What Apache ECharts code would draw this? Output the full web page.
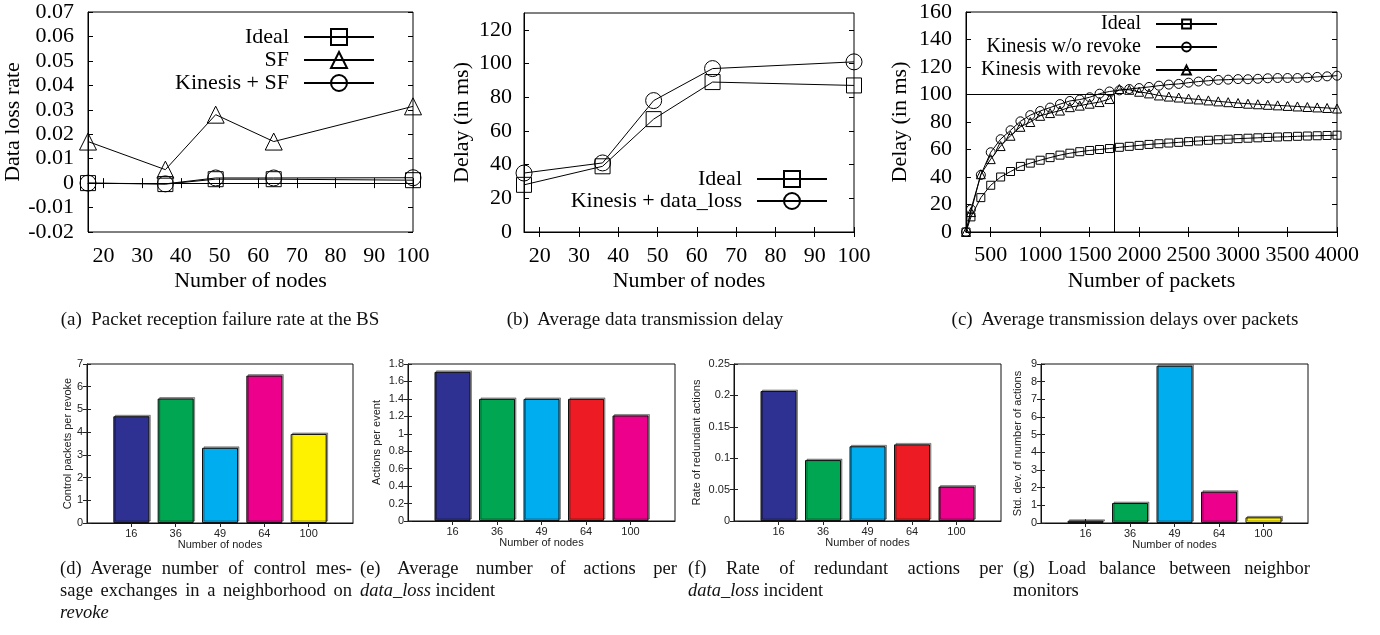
<!DOCTYPE html>
<html>
<head>
<meta charset="utf-8">
<script src="https://cdn.jsdelivr.net/npm/echarts@6/dist/echarts.min.js"></script>
<style>
  body { margin: 0; background: #fff; }
  #page { position: relative; width: 1380px; height: 635px; overflow: hidden; }
  .chart { position: absolute; left: 0; top: 0; width: 1380px; height: 635px; }
  .cap { position: absolute; font-family: 'Liberation Serif', 'Times New Roman', serif; color: #111; }
  .topcap { top: 308px; font-size: 19px; line-height: 22px; text-align: center; white-space: nowrap; }
  .col { top: 557px; font-size: 18.5px; line-height: 22px; }
  .col div { white-space: nowrap; }
  .col .j { text-align: justify; text-align-last: justify; white-space: normal; }
</style>
</head>
<body>
<div id="page">
  <div class="chart" id="chartA"></div>
  <div class="chart" id="chartB"></div>
  <div class="chart" id="chartC"></div>
  <div class="chart" id="chartD"></div>
  <div class="chart" id="chartE"></div>
  <div class="chart" id="chartF"></div>
  <div class="chart" id="chartG"></div>

  <div class="cap topcap" style="left:20px;width:400px">(a)&nbsp; Packet reception failure rate at the BS</div>
  <div class="cap topcap" style="left:445px;width:400px">(b)&nbsp; Average data transmission delay</div>
  <div class="cap topcap" style="left:925px;width:400px">(c)&nbsp; Average transmission delays over packets</div>

  <div class="cap col" style="left:60px;width:292px">
    <div class="j">(d) Average number of control mes-</div>
    <div class="j">sage exchanges in a neighborhood on</div>
    <div><i>revoke</i></div>
  </div>
  <div class="cap col" style="left:360px;width:317px">
    <div class="j">(e) Average number of actions per</div>
    <div><i>data_loss</i> incident</div>
  </div>
  <div class="cap col" style="left:688px;width:315px">
    <div class="j">(f) Rate of redundant actions per</div>
    <div><i>data_loss</i> incident</div>
  </div>
  <div class="cap col" style="left:1013px;width:297px">
    <div class="j">(g) Load balance between neighbor</div>
    <div>monitors</div>
  </div>
</div>

<script>
// ---- data ----
const nodeCounts = [16, 36, 49, 64, 100]
const nodeTicks = [20, 30, 40, 50, 60, 70, 80, 90, 100]

// (a) data loss rate
const lossIdeal = [0, -0.0004, 0.0016, 0.0016, 0.0012]
const lossSF = [0.017, 0.0055, 0.028, 0.017, 0.0314]
const lossKinesisSF = [0, -0.0003, 0.0021, 0.0021, 0.0022]

// (b) delay vs nodes
const delayTicks = [0, 20, 40, 60, 80, 100, 120]
const delayIdeal = [28, 39, 67, 89, 87]
const delayKinesisLoss = [35, 41, 78, 97, 101]

// (c) delay vs packets
const packetCounts = [250, 300, 400, 500, 600, 700, 800, 900, 1000, 1100, 1200, 1300, 1400,
  1500, 1600, 1700, 1800, 1900, 2000, 2100, 2200, 2300, 2400, 2500, 2600, 2700, 2800,
  2900, 3000, 3100, 3200, 3300, 3400, 3500, 3600, 3700, 3800, 3900, 4000]
const packetTicks = [500, 1000, 1500, 2000, 2500, 3000, 3500, 4000]
const pktDelayTicks = [0, 20, 40, 60, 80, 100, 120, 140, 160]
const pktIdeal = [0, 11, 25, 34, 40, 44, 47.7, 50.1, 52.2, 54.1, 55.9, 57.3, 58.4,
  59.3, 60.0, 60.7, 61.6, 62.3, 63.0, 63.7, 64.2, 64.7, 65.2, 65.7, 66.2, 66.7, 67.1,
  67.5, 67.9, 68.2, 68.5, 68.8, 69.1, 69.3, 69.6, 69.8, 70.0, 70.2, 70.4]
const pktNoRevoke = [0, 16.5, 41.5, 58, 67.5, 74, 80.5, 85, 88, 90.5, 93, 95.3, 96.3,
  98, 100.6, 102.2, 103, 104, 104.7, 105.5, 106.4, 107.2, 107.7, 108.6, 109.4, 110, 110.6,
  110.8, 111.2, 111.1, 111.4, 111.8, 112, 112, 112, 112.3, 112.8, 113.2, 113.7]
const pktRevoke = [0, 14.5, 42, 53, 62.5, 70, 76.5, 80, 84.5, 86.5, 88.3, 90.8, 91.9,
  93.3, 94.5, 96.7, 104, 103.4, 102, 100.8, 99.3, 98.5, 97.8, 97, 96.4, 95.7, 95,
  94.4, 93.8, 93.3, 92.9, 92.5, 92.1, 91.7, 91.3, 90.9, 90.6, 90.2, 89.8]
const cutPacket = 1750
const cutDelay = 100

// (d)-(g) bar panels
const nodeLabels = ['16', '36', '49', '64', '100']
const ctrlPackets = [4.7, 5.48, 3.31, 6.49, 3.92]
const actionsPerEvent = [1.71, 1.4, 1.4, 1.4, 1.21]
const redundantRate = [0.207, 0.097, 0.119, 0.122, 0.0548]
const stdDevActions = [0.13, 1.13, 8.9, 1.77, 0.32]

const BLUE = '#2e3192', GREEN = '#00a651', CYAN = '#00aeef'
const MAGENTA = '#ec008c', YELLOW = '#fff200', RED = '#ed1c24'

const serif = "'Liberation Serif', 'Times New Roman', serif"
const sans = "'Liberation Sans', Arial, sans-serif"

// gnuplot-like panel: boxed, inside ticks mirrored on all sides
function gnuplotOption(cfg) {
  const tick = (values) => ({ show: true, inside: true, length: 5, lineStyle: { color: '#000' }, customValues: values })
  const hidden = { show: false }
  const label = (values, margin) => ({
    customValues: values, margin: margin, color: '#000', fontFamily: serif, fontSize: 22,
    formatter: (v) => String(v)
  })
  const nameStyle = { color: '#000', fontFamily: serif, fontSize: 22 }
  return {
    animation: false,
    grid: Object.assign({ show: true, borderColor: '#000', borderWidth: 1, outerBoundsMode: 'none' }, cfg.grid),
    xAxis: [
      {
        type: 'value', min: cfg.xMin, max: cfg.xMax,
        name: cfg.xName, nameLocation: 'middle', nameGap: 38, nameTextStyle: nameStyle,
        axisLine: { show: true, lineStyle: { color: '#000' } },
        axisTick: tick(cfg.xTicks), axisLabel: label(cfg.xTicks, cfg.xMargin || 13),
        splitLine: hidden
      },
      {
        type: 'value', position: 'top', min: cfg.xMin, max: cfg.xMax,
        axisLine: hidden, axisTick: tick(cfg.xTicks), axisLabel: hidden, splitLine: hidden
      }
    ],
    yAxis: [
      {
        type: 'value', min: cfg.yMin, max: cfg.yMax, interval: cfg.yInterval,
        name: cfg.yName, nameLocation: 'middle', nameGap: cfg.yNameGap, nameTextStyle: nameStyle,
        axisLine: { show: true, lineStyle: { color: '#000' } },
        axisTick: tick(cfg.yTicks),
        axisLabel: cfg.yTicks ? label(cfg.yTicks, cfg.yMargin || 14)
          : { margin: cfg.yMargin || 14, color: '#000', fontFamily: serif, fontSize: 22 },
        splitLine: hidden
      },
      {
        type: 'value', position: 'right', min: cfg.yMin, max: cfg.yMax, interval: cfg.yInterval,
        axisLine: hidden, axisTick: tick(cfg.yTicks), axisLabel: hidden, splitLine: hidden
      }
    ],
    legend: Object.assign({
      orient: 'vertical', align: 'right',
      textStyle: { color: '#000', fontFamily: serif, fontSize: 22, padding: [0, 10, 0, 0] }
    }, cfg.legend),
    series: cfg.series
  }
}

function lineSeries(name, xs, ys, symbol, size) {
  return {
    name: name, type: 'line', symbol: symbol, symbolSize: size,
    data: xs.map((x, i) => [x, ys[i]]),
    lineStyle: { color: '#000', width: 1 },
    itemStyle: { color: 'rgba(255,255,255,0)', borderColor: '#000', borderWidth: 1 },
    emphasis: { disabled: true }
  }
}

// MATLAB-like bar panel
function barOption(cfg) {
  const positions = [1, 2, 3, 4, 5]
  const tick = (values) => ({ show: true, inside: true, length: 4, lineStyle: { color: '#222' }, customValues: values })
  const hidden = { show: false }
  const nameStyle = { color: '#222', fontFamily: sans, fontSize: 11 }
  return {
    animation: false,
    grid: Object.assign({ show: true, borderColor: '#111', borderWidth: 1, outerBoundsMode: 'none' }, cfg.grid),
    xAxis: [
      {
        type: 'value', min: 0, max: 6,
        name: 'Number of nodes', nameLocation: 'middle', nameGap: 16, nameTextStyle: nameStyle,
        axisLine: { show: true, lineStyle: { color: '#111' } },
        axisTick: tick(positions),
        axisLabel: {
          customValues: positions, margin: 5, color: '#222', fontFamily: sans, fontSize: 11,
          formatter: (v) => nodeLabels[v - 1]
        },
        splitLine: hidden
      },
      {
        type: 'value', position: 'top', min: 0, max: 6,
        axisLine: hidden, axisTick: tick(positions), axisLabel: hidden, splitLine: hidden
      }
    ],
    yAxis: [
      {
        type: 'value', min: 0, max: cfg.yMax, interval: cfg.yInterval,
        name: cfg.yName, nameLocation: 'middle', nameGap: cfg.yNameGap, nameTextStyle: nameStyle,
        axisLine: { show: true, lineStyle: { color: '#111' } },
        axisTick: { show: true, inside: true, length: 4, lineStyle: { color: '#222' } },
        axisLabel: { margin: 4, color: '#222', fontFamily: sans, fontSize: 11 },
        splitLine: hidden
      },
      {
        type: 'value', position: 'right', min: 0, max: cfg.yMax, interval: cfg.yInterval,
        axisLine: hidden,
        axisTick: { show: true, inside: true, length: 4, lineStyle: { color: '#222' } },
        axisLabel: hidden, splitLine: hidden
      }
    ],
    series: [{
      type: 'bar', barWidth: 36,
      data: cfg.values.map((v, i) => ({ value: [positions[i], v], itemStyle: { color: cfg.colors[i] } })),
      itemStyle: {
        borderColor: '#111', borderWidth: 1,
        shadowColor: 'rgba(0,0,0,0.35)', shadowOffsetX: 1.5, shadowOffsetY: -1.5, shadowBlur: 0
      },
      emphasis: { disabled: true }
    }]
  }
}

const charts = []
function draw(id, option) {
  const chart = echarts.init(document.getElementById(id))
  chart.setOption(option)
  charts.push(chart)
}

// (a)
draw('chartA', gnuplotOption({
  grid: { left: 88, top: 12, width: 325, height: 220 },
  xMin: 16, xMax: 100, xTicks: nodeTicks, xName: 'Number of nodes',
  yMin: -0.02, yMax: 0.07, yInterval: 0.01, yName: 'Data loss rate', yNameGap: 52,
  legend: { right: 1000, top: 21, itemWidth: 70, itemHeight: 20, itemGap: 1 },
  series: [
    lineSeries('Ideal', nodeCounts, lossIdeal, 'rect', 15),
    lineSeries('SF', nodeCounts, lossSF, 'triangle', 17),
    lineSeries('Kinesis + SF', nodeCounts, lossKinesisSF, 'circle', 16)
  ]
}))

// (b)
draw('chartB', gnuplotOption({
  grid: { left: 524, top: 13, width: 330, height: 219 },
  xMin: 16, xMax: 100, xTicks: nodeTicks, xName: 'Number of nodes',
  yMin: 0, yMax: 130, yTicks: delayTicks, yName: 'Delay (in ms)', yNameGap: 51, yMargin: 12,
  legend: { right: 547, top: 163, itemWidth: 70, itemHeight: 20, itemGap: 0 },
  series: [
    lineSeries('Ideal', nodeCounts, delayIdeal, 'rect', 15),
    lineSeries('Kinesis + data_loss', nodeCounts, delayKinesisLoss, 'circle', 16)
  ]
}))

// (c)
const cOption = gnuplotOption({
  grid: { left: 966, top: 12, width: 371, height: 220 },
  xMin: 250, xMax: 4000, xTicks: packetTicks, xName: 'Number of packets', xMargin: 12,
  yMin: 0, yMax: 160, yTicks: pktDelayTicks, yName: 'Delay (in ms)', yNameGap: 55,
  legend: {
    right: 157, top: 9, itemWidth: 61, itemHeight: 11, itemGap: 3,
    textStyle: { color: '#000', fontFamily: serif, fontSize: 20, padding: [0, 10, 0, 0] }
  },
  series: [
    lineSeries('Ideal', packetCounts, pktIdeal, 'rect', 8),
    lineSeries('Kinesis w/o revoke', packetCounts, pktNoRevoke, 'circle', 9),
    lineSeries('Kinesis with revoke', packetCounts, pktRevoke, 'triangle', 9)
  ]
})
cOption.series[0].markLine = {
  silent: true, symbol: 'none', animation: false,
  lineStyle: { color: '#000', width: 1, type: 'solid' },
  label: { show: false },
  data: [
    [{ coord: [250, cutDelay] }, { coord: [cutPacket, cutDelay] }],
    [{ coord: [cutPacket, 0] }, { coord: [cutPacket, cutDelay] }]
  ]
}
draw('chartC', cOption)

// (d)-(g)
draw('chartD', barOption({
  grid: { left: 87, top: 364, width: 266, height: 159 },
  yMax: 7, yInterval: 1, yName: 'Control packets per revoke', yNameGap: 14,
  values: ctrlPackets, colors: [BLUE, GREEN, CYAN, MAGENTA, YELLOW]
}))
draw('chartE', barOption({
  grid: { left: 408, top: 364, width: 267, height: 157 },
  yMax: 1.8, yInterval: 0.2, yName: 'Actions per event', yNameGap: 26,
  values: actionsPerEvent, colors: [BLUE, GREEN, CYAN, RED, MAGENTA]
}))
draw('chartF', barOption({
  grid: { left: 734, top: 364, width: 267, height: 157 },
  yMax: 0.25, yInterval: 0.05, yName: 'Rate of redundant actions', yNameGap: 32,
  values: redundantRate, colors: [BLUE, GREEN, CYAN, RED, MAGENTA]
}))
draw('chartG', barOption({
  grid: { left: 1041, top: 364, width: 267, height: 159 },
  yMax: 9, yInterval: 1, yName: 'Std. dev. of number of actions', yNameGap: 18,
  values: stdDevActions, colors: [BLUE, GREEN, CYAN, MAGENTA, YELLOW]
}))

window.addEventListener('resize', () => {
  charts.forEach(c => c.resize())
})
</script>
</body>
</html>
